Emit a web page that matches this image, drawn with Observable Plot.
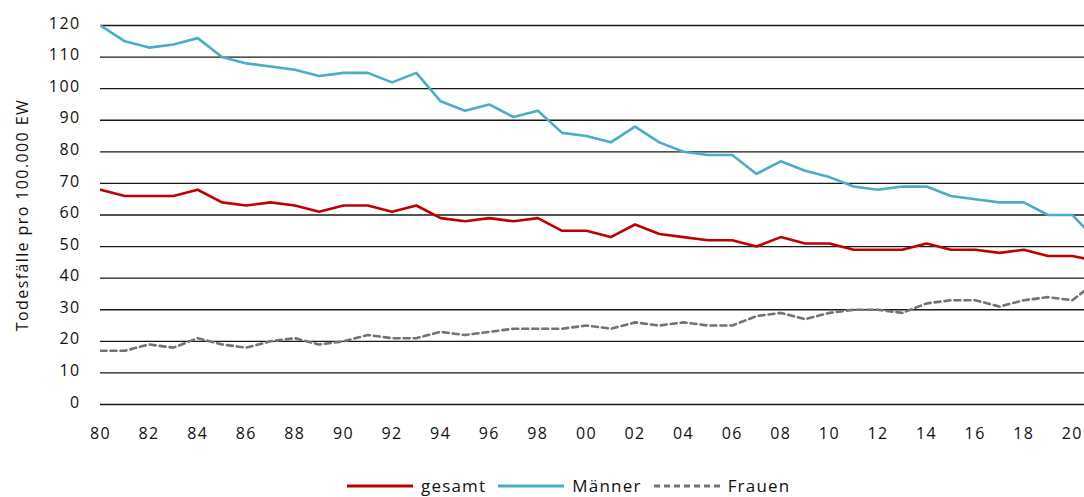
<!DOCTYPE html>
<html>
<head>
<meta charset="utf-8">
<script src="https://cdn.jsdelivr.net/npm/d3@7"></script>
<script src="https://cdn.jsdelivr.net/npm/@observablehq/plot@0.6"></script>
<style>
  html, body { margin: 0; padding: 0; background: #fff; }
  body { width: 1084px; height: 497px; overflow: hidden; font-family: "Open Sans", sans-serif; }
  #legend { display: flex; justify-content: flex-start; align-items: center; margin-top: 24px; padding-left: 347px; font-size: 17px; letter-spacing: 1.2px; color: #111; }
  .item { display: flex; align-items: center; margin-right: 12px; }
  .item svg { margin-right: 8px; }
</style>
</head>
<body>
<div id="chart"></div>
<div id="legend"></div>
<script>
const years   = d3.range(1980, 2022);
const gesamt  = [68,66,66,66,68,64,63,64,63,61,63,63,61,63,59,58,59,58,59,55,55,53,57,54,53,52,52,50,53,51,51,49,49,49,51,49,49,48,49,47,47,45.5];
const maenner = [120,115,113,114,116,110,108,107,106,104,105,105,102,105,96,93,95,91,93,86,85,83,88,83,80,79,79,73,77,74,72,69,68,69,69,66,65,64,64,60,60,52];
const frauen  = [17,17,19,18,21,19,18,20,21,19,20,22,21,21,23,22,23,24,24,24,25,24,26,25,26,25,25,28,29,27,29,30,30,29,32,33,33,31,33,34,33,39];
const seriesNames = ["gesamt", "Männer", "Frauen"];
const seriesColors = ["#c00000", "#4bacc6", "#6b7770"];
const seriesDash = [null, null, "6,4"];
const yTicks = d3.range(0, 121, 10);
const xTicks = d3.range(1980, 2021, 2);
const yTitle = "Todesfälle pro 100.000 EW";

const values = [gesamt, maenner, frauen];
const data = [];
seriesNames.forEach((s, i) => years.forEach((y, j) => data.push({series: s, year: y, value: values[i][j]})));

const chart = Plot.plot({
  width: 1084,
  height: 450,
  marginLeft: 100,
  marginRight: 0,
  marginTop: 25,
  marginBottom: 46,
  style: {fontFamily: "Open Sans, sans-serif", fontSize: "16px", letterSpacing: "1.4px", color: "#111", background: "#fff"},
  x: {domain: [1980, 2020.5]},
  y: {domain: [0, 120]},
  marks: [
    Plot.gridY(yTicks, {stroke: "#1a1a1a", strokeOpacity: 1, strokeWidth: 1.4}),
    Plot.axisY(yTicks, {tickSize: 0, tickPadding: 20, dy: -2, label: null, fontSize: 16}),
    Plot.text([yTitle], {frameAnchor: "left", textAnchor: "middle", rotate: -90, dx: -78, fontSize: 16, fill: "#111"}),
    Plot.axisX(xTicks, {tickSize: 0, tickPadding: 23, tickFormat: d => String(d % 100).padStart(2, "0"), label: null, fontSize: 16}),
    ...seriesNames.map((s, i) => Plot.line(data.filter(d => d.series === s), {
      x: "year", y: "value", stroke: seriesColors[i], strokeWidth: 2.6,
      strokeDasharray: seriesDash[i] ?? undefined, clip: true
    }))
  ]
});
document.getElementById("chart").appendChild(chart);

const legend = document.getElementById("legend");
seriesNames.forEach((s, i) => {
  const item = document.createElement("div");
  item.className = "item";
  item.innerHTML = `<svg width="66" height="10"><line x1="0" x2="66" y1="5" y2="5" stroke="${seriesColors[i]}" stroke-width="2.8" ${seriesDash[i] ? `stroke-dasharray="${seriesDash[i]}"` : ""}/></svg><span>${s}</span>`;
  legend.appendChild(item);
});
</script>
</body>
</html>
